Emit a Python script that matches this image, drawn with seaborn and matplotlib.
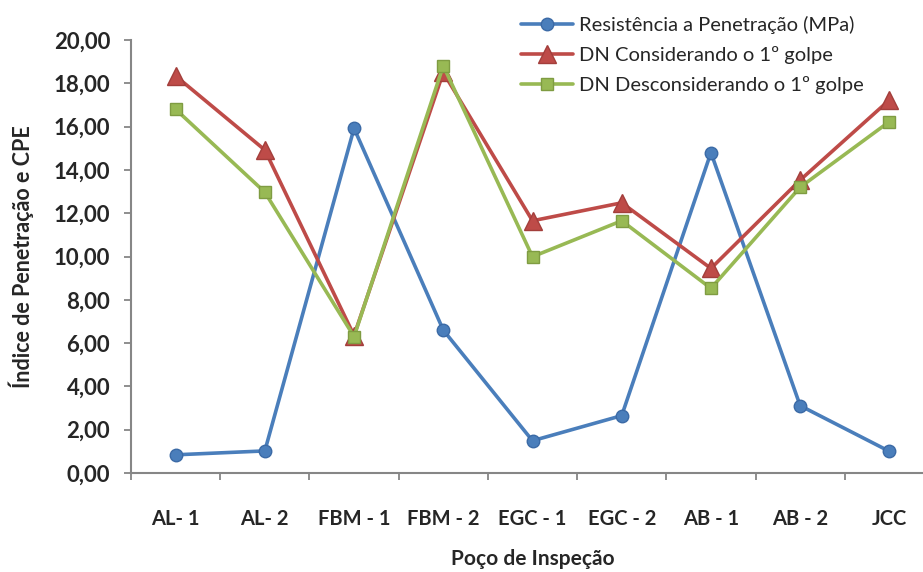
import pandas as pd
import seaborn as sns
import matplotlib.pyplot as plt
from matplotlib.ticker import FixedLocator

pocos = ["AL- 1", "AL- 2", "FBM - 1", "FBM - 2", "EGC - 1", "EGC - 2", "AB - 1", "AB - 2", "JCC"]
resistencia = [0.84, 1.02, 15.92, 6.60, 1.49, 2.65, 14.80, 3.11, 1.00]
dn_considerando = [18.34, 14.92, 6.35, 18.50, 11.65, 12.48, 9.45, 13.53, 17.23]
dn_desconsiderando = [16.80, 12.97, 6.30, 18.81, 9.99, 11.65, 8.53, 13.20, 16.23]

series = [
    ("Resistência a Penetração (MPa)", resistencia, "#4A7EBB", "o", 9, "#3B6AA6"),
    ("DN Considerando o 1º golpe", dn_considerando, "#BE4B48", "^", 13, "#A33E3B"),
    ("DN Desconsiderando o 1º golpe", dn_desconsiderando, "#98B954", "s", 9, "#7F9C42"),
]

sns.set_style("white")
plt.rcParams["font.family"] = ["Lato", "DejaVu Sans"]

fig = plt.figure(figsize=(9.23, 5.72), dpi=100)
ax = fig.add_axes([131 / 923, 99 / 572, 803 / 923, 433 / 572])

x = list(range(len(pocos)))
for name, vals, color, marker, ms, edge in series:
    df = pd.DataFrame({"x": x, "y": vals})
    sns.lineplot(data=df, x="x", y="y", ax=ax, color=color, linewidth=2.6,
                 marker=marker, markersize=ms, markeredgecolor=edge,
                 markeredgewidth=1, label=name)

ax.set_ylim(0, 20)
ax.set_yticks([0, 2, 4, 6, 8, 10, 12, 14, 16, 18, 20])
ax.set_yticklabels([f"{v:.2f}".replace(".", ",") for v in range(0, 21, 2)],
                   fontsize=16, fontweight="bold")
ax.set_xlim(-0.5, len(pocos) - 0.5)
ax.set_xticks(x)
ax.set_xticklabels(pocos, fontsize=14.5, fontweight="bold")
ax.xaxis.set_minor_locator(FixedLocator([i - 0.5 for i in range(len(pocos) + 1)]))
ax.tick_params(axis="x", which="major", length=0, pad=26)
ax.tick_params(axis="x", which="minor", length=5, color="#868686", width=1.3, direction="out", bottom=True)
ax.tick_params(axis="y", length=5, color="#868686", width=1.3, direction="out", left=True, pad=10)

for s in ["top", "right"]:
    ax.spines[s].set_visible(False)
for s in ["left", "bottom"]:
    ax.spines[s].set_color("#868686")
    ax.spines[s].set_linewidth(1.5)

ax.set_xlabel("Poço de Inspeção", fontsize=15, fontweight="bold", labelpad=14)
ax.set_ylabel("Índice de Penetração e CPE", fontsize=15.5, fontweight="bold", labelpad=14)

ax.legend(loc="upper left", bbox_to_anchor=(508 / 923, 1 - 3 / 572), bbox_transform=fig.transFigure,
          frameon=False, fontsize=14.5, handlelength=2.6, handletextpad=0.3, labelspacing=0.6,
          borderaxespad=0.25)

fig.savefig("out.png", dpi=100)
